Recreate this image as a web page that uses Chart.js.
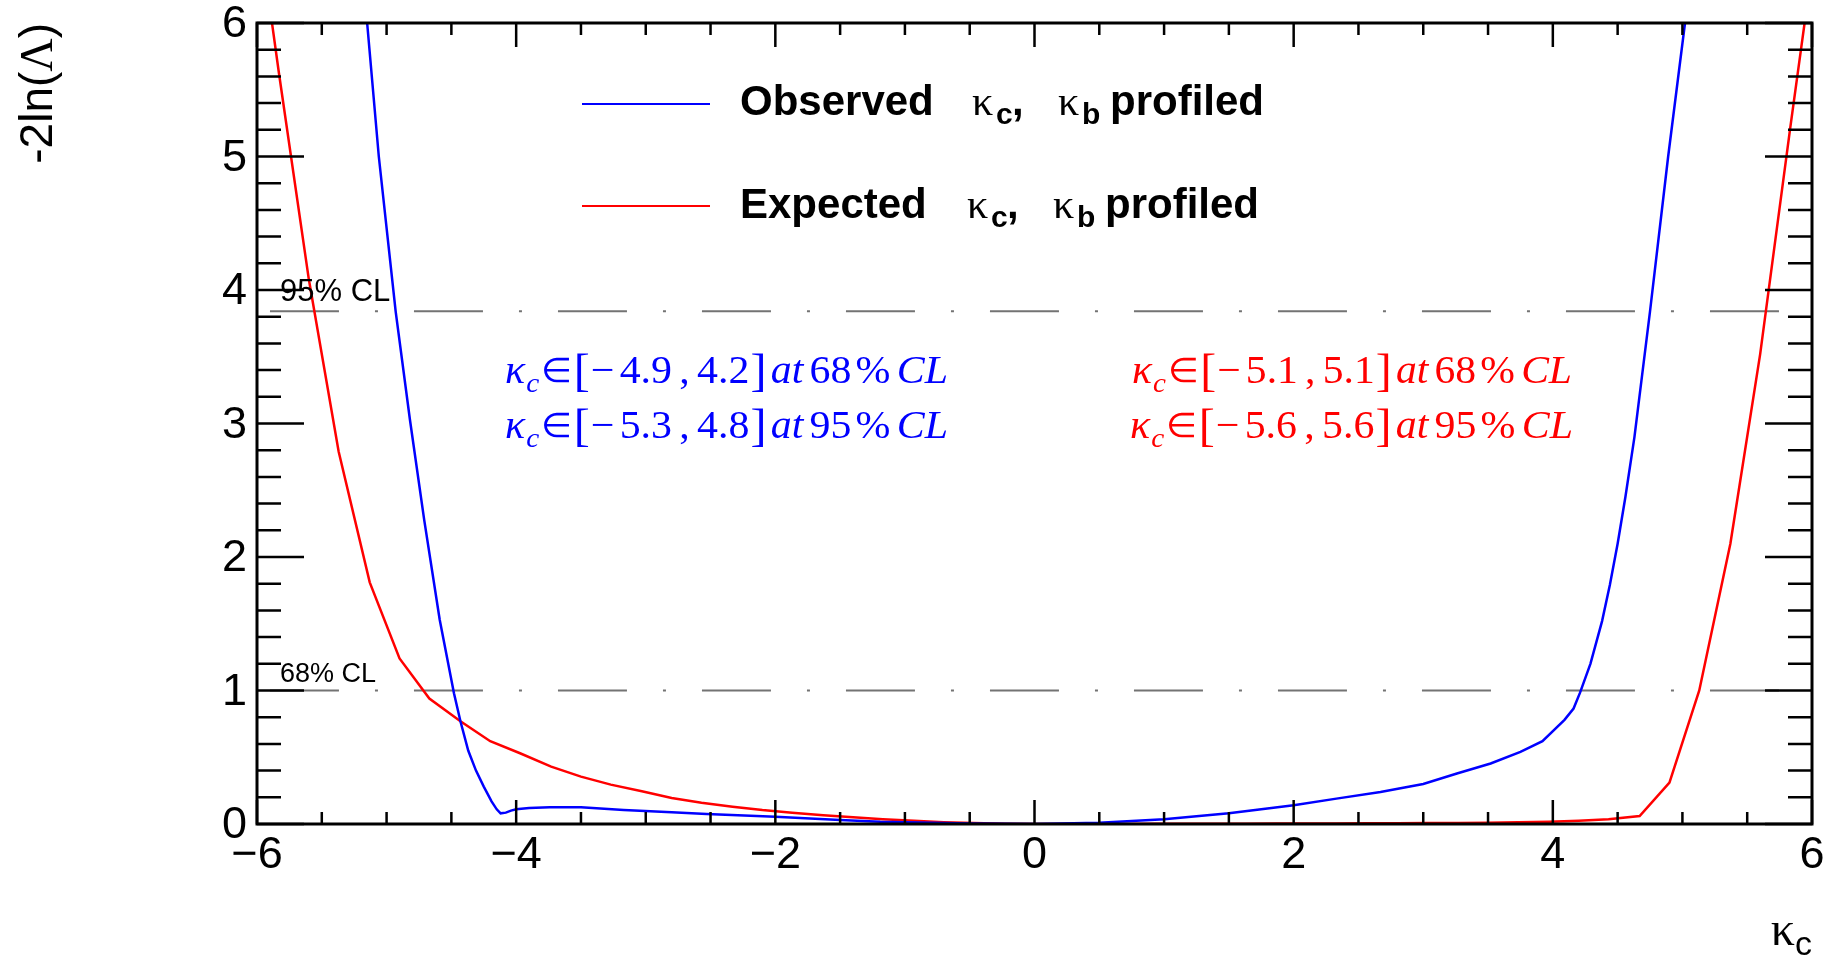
<!DOCTYPE html>
<html>
<head>
<meta charset="utf-8">
<script src="https://cdn.jsdelivr.net/npm/chart.js@4.4.1/dist/chart.umd.min.js"></script>
<style>
html,body{margin:0;padding:0;background:#fff;}
#wrap{width:1835px;height:959px;position:relative;}
</style>
</head>
<body>
<div id="wrap"><canvas id="c" width="1835" height="959"></canvas></div>
<script>
// ---------------- data ----------------
const obsK   = [-5.20,-5.15,-5.06,-4.93,-4.82,-4.71,-4.59,-4.48,-4.43,-4.37,-4.31,-4.25,-4.19,-4.15,-4.12,-4.08,-4.04,-4.00,-3.90,-3.74,-3.50,-3.17,-2.80,-2.53,-2.00,-1.50,-1.19,-0.50,0.00,0.50,1.00,1.50,2.00,2.33,2.67,3.00,3.26,3.52,3.75,3.92,4.09,4.16,4.21,4.29,4.38,4.44,4.50,4.56,4.63,4.75,4.89,5.02,5.08];
const obsNll = [6.5,6.0,5.0,3.84,3.03,2.28,1.53,0.98,0.77,0.55,0.40,0.28,0.17,0.11,0.08,0.085,0.10,0.11,0.12,0.125,0.125,0.105,0.088,0.075,0.055,0.03,0.017,0.004,0.0,0.01,0.035,0.08,0.14,0.19,0.24,0.30,0.378,0.453,0.54,0.62,0.78,0.865,0.984,1.2,1.52,1.79,2.1,2.45,2.9,3.84,5.0,6.0,6.5];

const expK   = [-6.07,-5.83,-5.60,-5.37,-5.13,-4.90,-4.67,-4.43,-4.20,-3.97,-3.73,-3.50,-3.27,-3.03,-2.80,-2.57,-2.33,-2.10,-1.87,-1.63,-1.40,-1.17,-0.93,-0.70,-0.47,-0.23,0.00,0.23,0.47,0.70,0.93,1.17,1.40,1.63,1.87,2.10,2.33,2.57,2.80,3.03,3.27,3.50,3.73,3.97,4.20,4.43,4.67,4.90,5.13,5.37,5.60,5.83,6.07];
const expNll = [7.3,5.62,4.08,2.79,1.81,1.24,0.94,0.77,0.62,0.53,0.43,0.355,0.295,0.245,0.195,0.16,0.13,0.105,0.085,0.066,0.05,0.036,0.024,0.014,0.007,0.002,0.0,0.0,0.0,0.0005,0.001,0.001,0.002,0.002,0.003,0.003,0.004,0.005,0.006,0.007,0.008,0.01,0.013,0.017,0.024,0.035,0.06,0.31,1.0,2.1,3.52,5.2,6.9];

const xTickValues = [-6,-4,-2,0,2,4,6];
const yTickValues = [0,1,2,3,4,5,6];
const clLevels = [1, 3.84];
const clLabels = ['68% CL', '95% CL'];
const clLineRange = [-5.9, 5.9];
const seriesNames = ['Observed', 'Expected'];
const obsInt68 = [-4.9, 4.2];
const obsInt95 = [-5.3, 4.8];
const expInt68 = [-5.1, 5.1];
const expInt95 = [-5.6, 5.6];

// ---------------- styling ----------------
const SANS = '"Liberation Sans", Arial, Helvetica, sans-serif';
const SERIF = '"Liberation Serif", "Times New Roman", serif';
const BLUE = '#0000ff', RED = '#ff0000', GREY = '#737373';
const AREA = {left: 257, top: 23, right: 1812, bottom: 824};
const fmt = v => (v < 0 ? '\u2212' + Math.abs(v) : String(v));

function drawRuns(ctx, x, y, runs, targetWidth) {
  let w = 0;
  const pos = [];
  for (const r of runs) {
    ctx.font = r.f;
    w += (r.dx || 0);
    pos.push(w);
    w += ctx.measureText(r.t).width;
  }
  const s = targetWidth ? targetWidth / w : 1;
  ctx.save();
  ctx.translate(x, y);
  ctx.scale(s, 1);
  runs.forEach((r, i) => {
    ctx.font = r.f;
    ctx.fillText(r.t, pos[i], r.dy || 0);
  });
  ctx.restore();
  return w * s;
}

const framePlugin = {
  id: 'frame',
  afterDatasetsDraw(chart) {
    const {ctx, chartArea: a, scales: {x, y}} = chart;
    ctx.save();
    ctx.strokeStyle = '#000';
    ctx.lineWidth = 2.5;
    ctx.beginPath();
    for (let i = 0; i <= 24; i++) {
      const v = -6 + i * 0.5;
      const px = x.getPixelForValue(v);
      const L = (i % 4 === 0) ? 24 : 12;
      ctx.moveTo(px, a.bottom); ctx.lineTo(px, a.bottom - L);
      ctx.moveTo(px, a.top); ctx.lineTo(px, a.top + L);
    }
    for (let i = 0; i <= 30; i++) {
      const v = i * 0.2;
      const py = y.getPixelForValue(v);
      const L = (i % 5 === 0) ? 47 : 24;
      ctx.moveTo(a.left, py); ctx.lineTo(a.left + L, py);
      ctx.moveTo(a.right, py); ctx.lineTo(a.right - L, py);
    }
    ctx.stroke();
    ctx.lineWidth = 3;
    ctx.strokeRect(a.left, a.top, a.right - a.left, a.bottom - a.top);
    ctx.restore();
  },
  afterDraw(chart) {
    const {ctx, chartArea: a, scales: {x, y}} = chart;
    ctx.save();
    ctx.textBaseline = 'alphabetic';
    ctx.textAlign = 'left';

    // CL labels
    ctx.fillStyle = '#000';
    ctx.font = '31px ' + SANS;
    ctx.fillText(clLabels[1], 280, y.getPixelForValue(clLevels[1]) - 10);
    ctx.font = '27px ' + SANS;
    ctx.fillText(clLabels[0], 280, y.getPixelForValue(clLevels[0]) - 9);

    // Legend
    const legY = [104, 206];
    const legBase = [115, 218];
    const legCol = [BLUE, RED];
    for (let i = 0; i < 2; i++) {
      ctx.strokeStyle = legCol[i];
      ctx.lineWidth = 2;
      ctx.beginPath(); ctx.moveTo(582, legY[i]); ctx.lineTo(710, legY[i]); ctx.stroke();
      ctx.fillStyle = '#000';
      const B = legBase[i];
      const shift = i === 0 ? 0 : -5;
      ctx.font = 'bold 42px ' + SANS; ctx.fillText(seriesNames[i], 740, B);
      ctx.font = '42px ' + SERIF;   ctx.fillText('\u03ba', 972 + shift, B);
      ctx.font = 'bold 30px ' + SANS; ctx.fillText('c', 996 + shift, B + 9);
      ctx.font = 'bold 42px ' + SANS; ctx.fillText(',', 1012 + shift, B);
      ctx.font = '42px ' + SERIF;   ctx.fillText('\u03ba', 1058 + shift, B);
      ctx.font = 'bold 30px ' + SANS; ctx.fillText('b', 1082 + shift, B + 9);
      ctx.font = 'bold 42px ' + SANS; ctx.fillText('profiled', 1110 + shift, B);
    }

    // Interval texts
    const ivRuns = (lo, hi, cl) => [
      {t: '\u03ba', f: 'italic 40px ' + SERIF},
      {t: 'c', f: 'italic 28px ' + SERIF, dy: 9, dx: 1},
      {t: '\u2208', f: '34px ' + SERIF, dx: 2, dy: -1},
      {t: '[', f: '46px ' + SERIF, dx: 1, dy: 3},
      {t: '\u2212', f: '40px ' + SERIF, dx: 1},
      {t: Math.abs(lo).toFixed(1), f: '40px ' + SERIF, dx: 5},
      {t: ',', f: '40px ' + SERIF, dx: 7},
      {t: hi.toFixed(1), f: '40px ' + SERIF, dx: 7},
      {t: ']', f: '46px ' + SERIF, dx: 1, dy: 3},
      {t: 'at', f: 'italic 40px ' + SERIF, dx: 4},
      {t: cl, f: '40px ' + SERIF, dx: 6},
      {t: '%', f: '40px ' + SERIF, dx: 4},
      {t: 'CL', f: 'italic 40px ' + SERIF, dx: 6}
    ];
    ctx.fillStyle = BLUE;
    drawRuns(ctx, 505, 383, ivRuns(obsInt68[0], obsInt68[1], '68'), 443);
    drawRuns(ctx, 505, 438, ivRuns(obsInt95[0], obsInt95[1], '95'), 443);
    ctx.fillStyle = RED;
    drawRuns(ctx, 1132, 383, ivRuns(expInt68[0], expInt68[1], '68'), 440);
    drawRuns(ctx, 1130, 438, ivRuns(expInt95[0], expInt95[1], '95'), 443);

    // X axis title (right aligned)
    ctx.fillStyle = '#000';
    ctx.font = '34px ' + SANS;
    const cw = ctx.measureText('c').width;
    ctx.fillText('c', a.right - cw, 955);
    ctx.font = '48px ' + SERIF;
    const kw = ctx.measureText('\u03ba').width;
    ctx.fillText('\u03ba', a.right - cw - kw, 945);

    // Y axis title (rotated, right aligned at top)
    ctx.save();
    ctx.translate(52, a.top);
    ctx.rotate(-Math.PI / 2);
    const yr = [
      {t: '-2ln(', f: '46px ' + SANS},
      {t: '\u039b', f: '46px ' + SERIF},
      {t: ')', f: '46px ' + SANS}
    ];
    let tw = 0;
    for (const r of yr) { ctx.font = r.f; tw += ctx.measureText(r.t).width; }
    drawRuns(ctx, -tw, 0, yr);
    ctx.restore();

    ctx.restore();
  }
};

const toPts = (xs, ys) => xs.map((v, i) => ({x: v, y: ys[i]}));

const datasets = [
  {label: seriesNames[0], data: toPts(obsK, obsNll), showLine: true, borderColor: BLUE, borderWidth: 2.5, pointRadius: 0, tension: 0, fill: false},
  {label: seriesNames[1], data: toPts(expK, expNll), showLine: true, borderColor: RED, borderWidth: 2.5, pointRadius: 0, tension: 0, fill: false}
];
clLevels.forEach(v => datasets.push({
  label: '', data: clLineRange.map(k => ({x: k, y: v})), showLine: true,
  borderColor: GREY, borderWidth: 2, borderDash: [69, 36, 3, 36], pointRadius: 0, fill: false
}));

const chart = new Chart(document.getElementById('c'), {
  type: 'scatter',
  data: {datasets},
  options: {
    responsive: false,
    animation: false,
    devicePixelRatio: 1,
    layout: {padding: {top: AREA.top, right: 1835 - AREA.right, left: 0, bottom: 0}},
    plugins: {legend: {display: false}, tooltip: {enabled: false}},
    scales: {
      x: {
        type: 'linear', min: -6, max: 6,
        grid: {display: false, drawTicks: false},
        border: {display: false},
        afterFit(s) { s.height = 959 - AREA.bottom; s.paddingLeft = 0; s.paddingRight = 0; },
        afterBuildTicks(s) { s.ticks = xTickValues.map(v => ({value: v})); },
        ticks: {font: {family: SANS, size: 45, lineHeight: 1}, color: '#000', padding: 9, maxRotation: 0, autoSkip: false, callback: v => fmt(v)}
      },
      y: {
        type: 'linear', min: 0, max: 6,
        grid: {display: false, drawTicks: false},
        border: {display: false},
        afterFit(s) { s.width = AREA.left; s.paddingTop = 0; s.paddingBottom = 0; },
        afterBuildTicks(s) { s.ticks = yTickValues.map(v => ({value: v})); },
        ticks: {font: {family: SANS, size: 45, lineHeight: 1}, color: '#000', padding: 10, labelOffset: 2, autoSkip: false, callback: v => fmt(v)}
      }
    }
  },
  plugins: [framePlugin]
});

// make the plot frame land exactly where the reference frame is
for (let it = 0; it < 3; it++) {
  const a = chart.chartArea, p = chart.options.layout.padding;
  const dt = AREA.top - a.top, db = a.bottom - AREA.bottom, dr = a.right - AREA.right, dl = AREA.left - a.left;
  if (Math.abs(dt) < 0.5 && Math.abs(db) < 0.5 && Math.abs(dr) < 0.5 && Math.abs(dl) < 0.5) break;
  p.top += dt; p.bottom += db; p.right += dr; p.left += dl;
  chart.update();
}
</script>
</body>
</html>
